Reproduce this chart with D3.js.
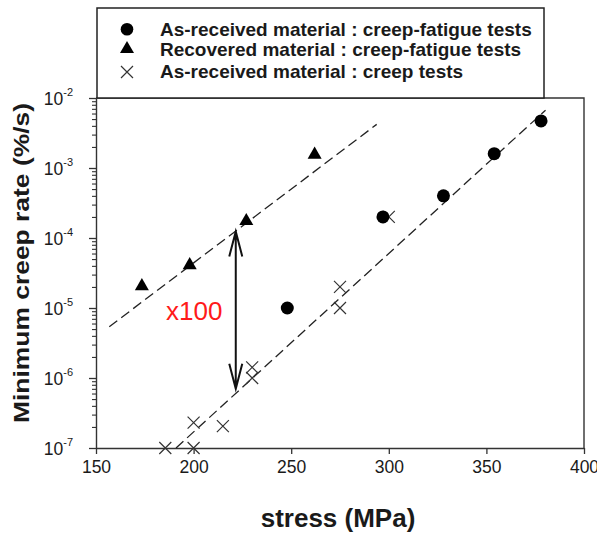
<!DOCTYPE html>
<html><head><meta charset="utf-8">
<script src="https://cdn.jsdelivr.net/npm/d3@7"></script>
<style>
body{margin:0;background:#fff;}
svg{display:block;font-family:"Liberation Sans",Arial,Helvetica,sans-serif;}
</style></head>
<body><svg id="c" width="597" height="534"></svg>
<script>
// ---- data ----
const xTicks = [150, 200, 250, 300, 350, 400];
const yExponents = [-7, -6, -5, -4, -3, -2];
const legendLabels = [
  "As-received material : creep-fatigue tests",
  "Recovered material : creep-fatigue tests",
  "As-received material : creep tests"
];
// As-received material, creep-fatigue (circles)
const cfStress = [248, 297, 328, 354, 378];
const cfRate   = [1.0e-5, 2.0e-4, 4.0e-4, 1.6e-3, 4.7e-3];
// Recovered material, creep-fatigue (triangles)
const recStress = [173.5, 198, 227, 262];
const recRate   = [2.05e-5, 4.1e-5, 1.75e-4, 1.55e-3];
// As-received material, creep (crosses)
const crStress = [185.5, 200, 200, 215, 230, 230, 275, 275, 300];
const crRate   = [1e-7, 1e-7, 2.3e-7, 2.05e-7, 1.0e-6, 1.42e-6, 1.0e-5, 2.0e-5, 2.0e-4];
// dashed trend lines (endpoints)
const fitLowStress = [191, 380.3];
const fitLowRate   = [1e-7, 6.7e-3];
const fitUpStress  = [156.8, 293.8];
const fitUpRate    = [5.4e-6, 4.2e-3];
// x100 arrow
const arrowStress = 221.6;
const arrowRate = [1.24e-4, 7.0e-7];

// ---- layout ----
const svg = d3.select("#c");
const L = 96, R = 584, T = 98, B = 448;
const x = d3.scaleLinear().domain([150, 400]).range([L, R]);
const y = d3.scaleLog().domain([1e-7, 1e-2]).range([B, T]);
const ink = "#1a1a1a";

// frame (top/right)
svg.append("path").attr("d", `M${L},${T}H${R}V${B}`).attr("fill","none")
  .attr("stroke","#333").attr("stroke-width",1.4);

// x axis
const gx = svg.append("g").attr("transform",`translate(0,${B})`)
  .call(d3.axisBottom(x).tickValues(xTicks).tickFormat(d3.format("d")).tickSize(6).tickPadding(7).tickSizeOuter(0));
gx.select(".domain").attr("stroke","#333").attr("stroke-width",1.4);
gx.selectAll(".tick line").attr("stroke","#333").attr("stroke-width",1.3);
gx.selectAll(".tick text").attr("font-size",17.5).attr("fill",ink).attr("font-family","Liberation Sans, Arial, sans-serif");

// y axis minor ticks
const minor = [];
for (let e = -7; e < -2; e++) for (let m = 2; m <= 9; m++) minor.push(m * Math.pow(10, e));
const gm = svg.append("g").attr("transform",`translate(${L},0)`)
  .call(d3.axisLeft(y).tickValues(minor).tickFormat("").tickSize(4).tickSizeOuter(0));
gm.select(".domain").remove();
gm.selectAll(".tick line").attr("stroke","#333").attr("stroke-width",1.1);

// y axis major ticks
const gy = svg.append("g").attr("transform",`translate(${L},0)`)
  .call(d3.axisLeft(y).tickValues(yExponents.map(e => Math.pow(10, e))).tickSize(7).tickPadding(24).tickSizeOuter(0));
gy.select(".domain").attr("stroke","#333").attr("stroke-width",1.4);
gy.selectAll(".tick line").attr("stroke","#333").attr("stroke-width",1.3);
gy.selectAll(".tick text").each(function(d){
  const t = d3.select(this).text(null).attr("font-size",17.5).attr("fill",ink)
    .attr("font-family","Liberation Sans, Arial, sans-serif").attr("dy","0.35em");
  t.append("tspan").text("10");
  t.append("tspan").attr("font-size",11).attr("dy","-0.75em").text(String(Math.round(Math.log10(d))));
});
gy.selectAll(".tick text").attr("x", -23).attr("text-anchor","end");

// axis titles
svg.append("text").attr("x", (L+R)/2 - 2).attr("y", 527).attr("text-anchor","middle")
  .attr("font-weight","bold").attr("font-size",26).attr("fill",ink).text("stress (MPa)");
svg.append("text").attr("transform","translate(29,263) rotate(-90)").attr("text-anchor","middle")
  .attr("font-weight","bold").attr("font-size",22).attr("fill",ink)
  .attr("textLength",320).attr("lengthAdjust","spacingAndGlyphs").text("Minimum creep rate (%/s)");

// trend lines
const line = d3.line().x(d => x(d[0])).y(d => y(d[1]));
[[fitLowStress, fitLowRate],[fitUpStress, fitUpRate]].forEach(([s, r]) => {
  svg.append("path").attr("d", line(s.map((v,i)=>[v, r[i]]))).attr("fill","none")
    .attr("stroke","#222").attr("stroke-width",1.3).attr("stroke-dasharray","10,5");
});

// markers
const tri = d3.symbol().type(d3.symbolTriangle).size(85);
const crossPath = (cx, cy, h) => `M${cx-h},${cy-h}L${cx+h},${cy+h}M${cx-h},${cy+h}L${cx+h},${cy-h}`;

svg.append("g").selectAll("path").data(crStress.map((s,i)=>[s, crRate[i]])).join("path")
  .attr("d", d => crossPath(x(d[0]), y(d[1]), 6)).attr("stroke","#333").attr("stroke-width",1.2).attr("fill","none");
svg.append("g").selectAll("circle").data(cfStress.map((s,i)=>[s, cfRate[i]])).join("circle")
  .attr("cx", d => x(d[0])).attr("cy", d => y(d[1])).attr("r", 6.5).attr("fill","#000");
svg.append("g").selectAll("path").data(recStress.map((s,i)=>[s, recRate[i]])).join("path")
  .attr("d", tri).attr("transform", d => `translate(${x(d[0])},${y(d[1])})`).attr("fill","#000");

// arrow
const ax = x(arrowStress), ay1 = y(arrowRate[0]), ay2 = y(arrowRate[1]);
svg.append("path").attr("d",
  `M${ax},${ay1}V${ay2}M${ax-6.5},${ay1+25}L${ax},${ay1}L${ax+6.5},${ay1+25}M${ax-6.5},${ay2-25}L${ax},${ay2}L${ax+6.5},${ay2-25}`)
  .attr("fill","none").attr("stroke","#111").attr("stroke-width",2);
svg.append("text").attr("x", 166).attr("y", 320).attr("font-size",26).attr("fill","#ff1a1a").text("x100");

// legend
svg.append("rect").attr("x",97).attr("y",8).attr("width",447).attr("height",90)
  .attr("fill","#fff").attr("stroke","#222").attr("stroke-width",1.5);
const ly = [29.3, 49, 72];
const lb = [36, 55.5, 78];
svg.append("circle").attr("cx",127).attr("cy",ly[0]).attr("r",6.3).attr("fill","#000");
svg.append("path").attr("d", tri).attr("transform",`translate(127,${ly[1]})`).attr("fill","#000");
svg.append("path").attr("d", crossPath(127, ly[2], 6)).attr("stroke","#333").attr("stroke-width",1.2);
legendLabels.forEach((t,i) => {
  svg.append("text").attr("x",160).attr("y",lb[i]).attr("font-size",19).attr("font-weight","bold")
    .attr("fill",ink).text(t);
});
</script></body></html>
